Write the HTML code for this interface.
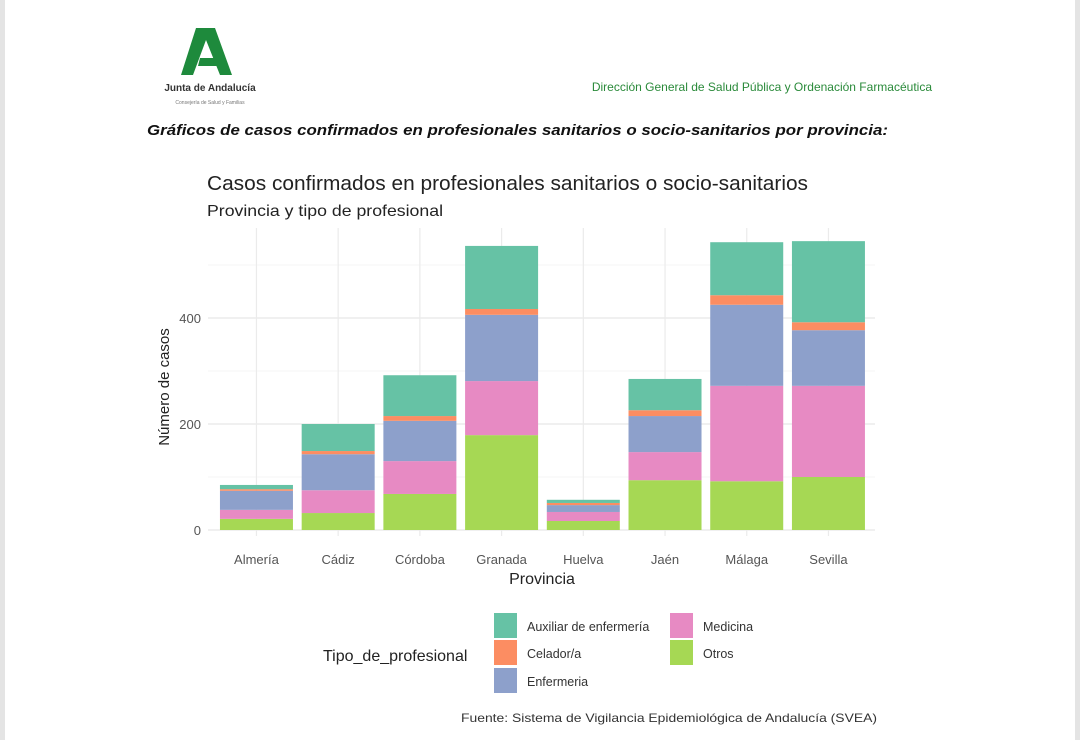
<!DOCTYPE html>
<html><head><meta charset="utf-8">
<style>
body{margin:0;width:1080px;height:740px;background:#fff;position:relative;overflow:hidden;font-family:"Liberation Sans",sans-serif;}
.edge{position:absolute;top:0;width:5px;height:740px;background:#e4e4e4;}
</style></head>
<body>
<div class="edge" style="left:0"></div>
<div class="edge" style="right:0"></div>
<svg width="1080" height="740" style="position:absolute;left:0;top:0" id="chart">
  <g>
    <polygon points="196,28 215,28 232,75 220,75 206,40 193,75 181,75" fill="#1e8a3c"/>
    <polygon points="200,58 218,58 220,66 198,66" fill="#1e8a3c"/>
    <text x="210" y="91" font-size="10" font-weight="bold" text-anchor="middle" fill="#333">Junta de Andalucía</text>
    <text x="210" y="104" font-size="5" text-anchor="middle" fill="#777">Consejería de Salud y Familias</text>
  </g>
  <text x="932" y="91" font-size="12" text-anchor="end" fill="#2a8a3a">Dirección General de Salud Pública y Ordenación Farmacéutica</text>
  <text x="147" y="135" font-size="15" font-weight="bold" font-style="italic" fill="#111" textLength="741" lengthAdjust="spacingAndGlyphs">Gráficos de casos confirmados en profesionales sanitarios o socio-sanitarios por provincia:</text>
  <text x="207" y="190" font-size="20" fill="#222" textLength="601" lengthAdjust="spacingAndGlyphs">Casos confirmados en profesionales sanitarios o socio-sanitarios</text>
  <text x="207" y="216" font-size="16" fill="#222" textLength="236" lengthAdjust="spacingAndGlyphs">Provincia y tipo de profesional</text>
  <g id="grid"></g><g id="bars"></g><g id="axes"></g>
  <text x="169" y="387" font-size="15" fill="#222" text-anchor="middle" transform="rotate(-90 169 387)">Número de casos</text>
  <text x="542" y="584" font-size="16" fill="#222" text-anchor="middle">Provincia</text>
  <g id="legend"></g>
  <text x="323" y="661" font-size="16" fill="#222">Tipo_de_profesional</text>
  <text x="461" y="722" font-size="12" fill="#333" textLength="416" lengthAdjust="spacingAndGlyphs">Fuente: Sistema de Vigilancia Epidemiológica de Andalucía (SVEA)</text>
</svg>
<script>
const categories=["Almería","Cádiz","Córdoba","Granada","Huelva","Jaén","Málaga","Sevilla"];
const otros=[21,32,68,179,17,94,92,100];
const medicina=[17,43,62,102,17,53,180,172];
const enfermeria=[36,68,76,125,13,68,153,105];
const celador=[3,6,9,11,4,11,18,15];
const auxiliar=[8,51,77,119,6,59,100,153];
const yTicks=[0,200,400];
const seriesNames=["Otros","Medicina","Enfermeria","Celador/a","Auxiliar de enfermeria"];
const seriesColors=["#a6d854","#e78ac3","#8da0cb","#fc8d62","#66c2a5"];
const series=[otros,medicina,enfermeria,celador,auxiliar];

const NS="http://www.w3.org/2000/svg";
const pLeft=215.6,pRight=869.3,pTop=228,pBottom=536,gLeft=208,gRight=875;
const step=(pRight-pLeft)/categories.length;
const bw=73;
function xc(i){return pLeft+step*(i+0.5);}
function ys(v){return 530-v*0.53;}
function mk(t,a,p){const e=document.createElementNS(NS,t);for(const k in a)e.setAttribute(k,a[k]);p.appendChild(e);return e;}
const grid=document.getElementById('grid'),bars=document.getElementById('bars'),axes=document.getElementById('axes'),leg=document.getElementById('legend');
for(let v=0;v<=500;v+=100){
  const l=mk('line',{x1:gLeft,x2:gRight,y1:ys(v),y2:ys(v),stroke:v%200?'#f3f3f3':'#e8e8e8','stroke-width':v%200?0.8:1.2},grid);
  
  
}
categories.forEach((c,i)=>{
  const l=mk('line',{x1:xc(i),x2:xc(i),y1:pTop,y2:pBottom,stroke:'#ebebeb','stroke-width':1.2},grid);
  
  
  let acc=0;
  series.forEach((s,k)=>{
    const r=mk('rect',{x:xc(i)-bw/2,y:ys(acc+s[i]),width:bw,height:s[i]*0.53,fill:seriesColors[k]},bars);
    
    
    acc+=s[i];
  });
  const t=mk('text',{x:xc(i),y:564,'font-size':13,fill:'#555','text-anchor':'middle'},axes);
  t.textContent=c;
  
  
});
yTicks.forEach(v=>{
  const t=mk('text',{x:201,y:ys(v)+5,'font-size':13,fill:'#555','text-anchor':'end'},axes);
  t.textContent=v;
  
  
});
const legItems=[["Auxiliar de enfermería","#66c2a5",494,613],["Celador/a","#fc8d62",494,640],["Enfermeria","#8da0cb",494,668],["Medicina","#e78ac3",670,613],["Otros","#a6d854",670,640]];
legItems.forEach(([n,col,x,yy])=>{
  const r=mk('rect',{x:x,y:yy,width:23,height:25,fill:col},leg);
  
  
  const t=mk('text',{x:x+33,y:yy+18,'font-size':12.5,fill:'#333'},leg);
  t.textContent=n;
  
  
});
</script>
</body></html>
